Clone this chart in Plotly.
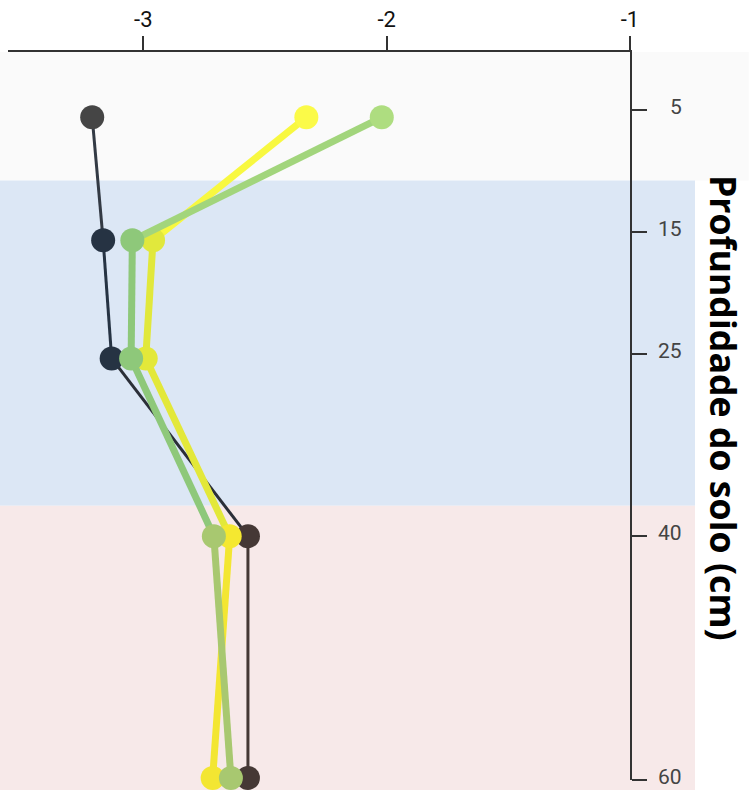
import plotly.graph_objects as go

# ---- data ----
depth = [5.6, 15.7, 25.4, 40.0, 59.85]
dark = [-3.21, -3.165, -3.13, -2.57, -2.57]
yellow = [-2.33, -2.96, -2.99, -2.645, -2.715]
green = [-2.02, -3.045, -3.05, -2.71, -2.64]

x_ticks = [-3, -2, -1]
y_ticks = [5, 15, 25, 40, 60]
y_title = "Profundidade do solo (cm)"

# soil layer bands (depth from, depth to)
band_edges = [0.24, 10.8, 37.5, 60.85]
band_colors = ["#fafafa", "#dce7f5", "#f7e9e9"]
band_right = [1.191, 1.1045, 1.1045]

# ---- styles ----
dark_pt = ["#454545", "#263343", "#263343", "#453835", "#453835"]
dark_seg = ["#333a44", "#263343", "#2b2f38", "#453835"]
yel_pt = ["#fbfa48", "#e1e83c", "#e3e83a", "#f5e830", "#f3e632"]
yel_seg = ["#f8f840", "#e1e83c", "#e3e83a", "#f3e632"]
grn_pt = ["#aedd80", "#8ec87a", "#8ec87a", "#a8c870", "#a8c870"]
grn_seg = ["#a2d57c", "#8ec87a", "#8ec87a", "#a8c870"]

Y_RANGE = [60.02, 0.24]
X_RANGE = [-3.556, -1]
TICK_FONT = "Liberation Sans Narrow, Roboto, sans-serif"

fig = go.Figure()


def add_series(xs, seg_cols, pt_cols, lw, ms):
    for i in range(len(xs) - 1):
        fig.add_trace(go.Scatter(
            x=[xs[i], xs[i + 1]], y=[depth[i], depth[i + 1]], mode="lines",
            line=dict(color=seg_cols[i], width=lw), cliponaxis=False,
            showlegend=False, hoverinfo="skip"))
    fig.add_trace(go.Scatter(
        x=xs, y=depth, mode="markers",
        marker=dict(color=pt_cols, size=ms, line=dict(width=0)),
        cliponaxis=False, showlegend=False))


add_series(dark, dark_seg, dark_pt, 3, 24)
add_series(yellow, yel_seg, yel_pt, 7, 24)
add_series(green, grn_seg, grn_pt, 7, 24)


def ypaper(d):
    return (Y_RANGE[0] - d) / (Y_RANGE[0] - Y_RANGE[1])


for i, col in enumerate(band_colors):
    fig.add_shape(type="rect", xref="paper", yref="paper",
                  x0=-0.02, x1=band_right[i],
                  y0=ypaper(band_edges[i + 1]), y1=ypaper(band_edges[i]),
                  fillcolor=col, line=dict(width=0), layer="below")

# right-aligned y tick labels
for t in y_ticks:
    fig.add_annotation(text=str(t), xref="paper", yref="y", x=1.0875, y=t,
                       xanchor="right", yanchor="middle", showarrow=False,
                       yshift=3,
                       font=dict(family=TICK_FONT, size=21, color="#444444"))

fig.add_annotation(text=y_title, xref="paper", yref="paper",
                   x=1.192, y=ypaper(29.5), textangle=90, showarrow=False,
                   font=dict(family="Open Sans", size=35.7, color="#000000",
                             weight="bold"))

fig.update_xaxes(range=X_RANGE, side="top", tickvals=x_ticks,
                 ticktext=[str(v) for v in x_ticks],
                 showline=True, linecolor="#333333", linewidth=1.5,
                 ticks="outside", ticklen=14, tickwidth=1.5, tickcolor="#333333",
                 tickfont=dict(family=TICK_FONT, size=22, color="#111111"),
                 showgrid=False, zeroline=False)
fig.update_yaxes(range=Y_RANGE, side="right", tickvals=y_ticks,
                 showticklabels=False,
                 showline=True, linecolor="#333333", linewidth=1.5,
                 ticks="outside", ticklen=15, tickwidth=1.5, tickcolor="#333333",
                 showgrid=False, zeroline=False)

fig.update_layout(width=749, height=790,
                  margin=dict(l=8, r=119, t=52, b=10),
                  paper_bgcolor="white", plot_bgcolor="rgba(0,0,0,0)")

fig.write_html("out.html")
